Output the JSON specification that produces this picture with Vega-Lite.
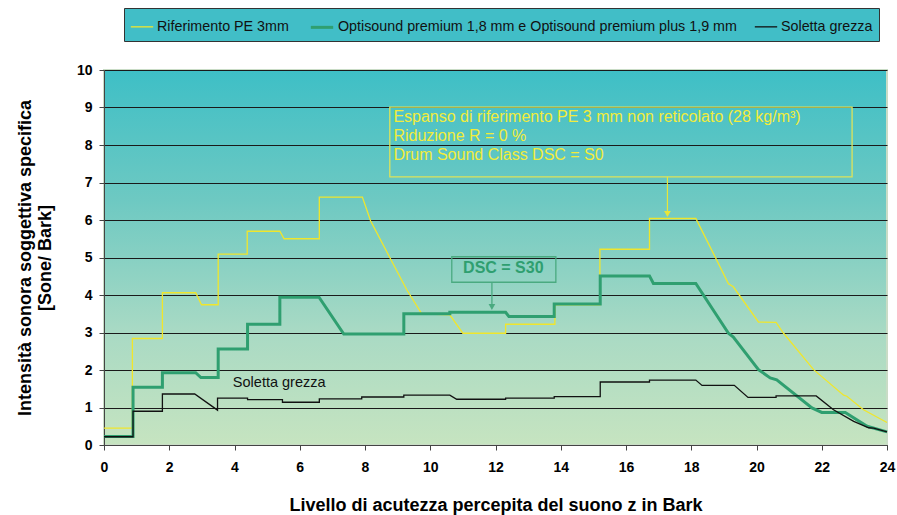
{
  "$schema": "https://vega.github.io/schema/vega-lite/v6.json",
  "width": 783,
  "height": 375,
  "autosize": "none",
  "padding": {"left": 104, "top": 70, "right": 10, "bottom": 70},
  "background": "white",
  "config": {
    "font": "Liberation Sans",
    "view": {
      "fill": {"gradient": "linear", "x1": 0, "y1": 0, "x2": 0, "y2": 1,
        "stops": [
          {"offset": 0, "color": "#3ebfc6"},
          {"offset": 0.35, "color": "#6ec9c2"},
          {"offset": 0.7, "color": "#a9dac4"},
          {"offset": 1, "color": "#c6e4c0"}
        ]},
      "stroke": "#c9dcc6",
      "strokeWidth": 2
    },
    "axis": {
      "labelFont": "Liberation Sans",
      "labelFontWeight": "bold",
      "labelFontSize": 14,
      "labelColor": "#000",
      "labelFlush": false,
      "labelOverlap": false,
      "titleFont": "Liberation Sans",
      "titleFontWeight": "bold",
      "titleFontSize": 18,
      "titleColor": "#000",
      "domainColor": "#444",
      "tickColor": "#444",
      "tickSize": 5
    }
  },
  "datasets": {
    "lines": [
      {"s": "Riferimento PE 3mm", "i": 1, "x": 0, "y": 0.45},
      {"s": "Riferimento PE 3mm", "i": 2, "x": 0.87, "y": 0.45},
      {"s": "Riferimento PE 3mm", "i": 3, "x": 0.87, "y": 2.84},
      {"s": "Riferimento PE 3mm", "i": 4, "x": 1.79, "y": 2.84},
      {"s": "Riferimento PE 3mm", "i": 5, "x": 1.79, "y": 4.06},
      {"s": "Riferimento PE 3mm", "i": 6, "x": 2.81, "y": 4.06},
      {"s": "Riferimento PE 3mm", "i": 7, "x": 2.99, "y": 3.74},
      {"s": "Riferimento PE 3mm", "i": 8, "x": 3.5, "y": 3.74},
      {"s": "Riferimento PE 3mm", "i": 9, "x": 3.5, "y": 5.09},
      {"s": "Riferimento PE 3mm", "i": 10, "x": 4.39, "y": 5.09},
      {"s": "Riferimento PE 3mm", "i": 11, "x": 4.39, "y": 5.7},
      {"s": "Riferimento PE 3mm", "i": 12, "x": 5.39, "y": 5.7},
      {"s": "Riferimento PE 3mm", "i": 13, "x": 5.52, "y": 5.5},
      {"s": "Riferimento PE 3mm", "i": 14, "x": 6.6, "y": 5.5},
      {"s": "Riferimento PE 3mm", "i": 15, "x": 6.6, "y": 6.61},
      {"s": "Riferimento PE 3mm", "i": 16, "x": 7.92, "y": 6.61},
      {"s": "Riferimento PE 3mm", "i": 17, "x": 8.17, "y": 5.98},
      {"s": "Riferimento PE 3mm", "i": 18, "x": 8.76, "y": 5.0},
      {"s": "Riferimento PE 3mm", "i": 19, "x": 9.28, "y": 4.14},
      {"s": "Riferimento PE 3mm", "i": 20, "x": 9.74, "y": 3.5},
      {"s": "Riferimento PE 3mm", "i": 21, "x": 10.6, "y": 3.47},
      {"s": "Riferimento PE 3mm", "i": 22, "x": 11.0, "y": 2.98},
      {"s": "Riferimento PE 3mm", "i": 23, "x": 12.31, "y": 2.98},
      {"s": "Riferimento PE 3mm", "i": 24, "x": 12.31, "y": 3.22},
      {"s": "Riferimento PE 3mm", "i": 25, "x": 13.82, "y": 3.22},
      {"s": "Riferimento PE 3mm", "i": 26, "x": 13.82, "y": 3.74},
      {"s": "Riferimento PE 3mm", "i": 27, "x": 15.2, "y": 3.74},
      {"s": "Riferimento PE 3mm", "i": 28, "x": 15.2, "y": 5.22},
      {"s": "Riferimento PE 3mm", "i": 29, "x": 16.72, "y": 5.22},
      {"s": "Riferimento PE 3mm", "i": 30, "x": 16.72, "y": 6.04},
      {"s": "Riferimento PE 3mm", "i": 31, "x": 18.14, "y": 6.04},
      {"s": "Riferimento PE 3mm", "i": 32, "x": 18.73, "y": 5.02},
      {"s": "Riferimento PE 3mm", "i": 33, "x": 19.14, "y": 4.3},
      {"s": "Riferimento PE 3mm", "i": 34, "x": 19.29, "y": 4.22},
      {"s": "Riferimento PE 3mm", "i": 35, "x": 20.06, "y": 3.28},
      {"s": "Riferimento PE 3mm", "i": 36, "x": 20.6, "y": 3.27},
      {"s": "Riferimento PE 3mm", "i": 37, "x": 20.83, "y": 2.98},
      {"s": "Riferimento PE 3mm", "i": 38, "x": 21.75, "y": 2.01},
      {"s": "Riferimento PE 3mm", "i": 39, "x": 22.67, "y": 1.33},
      {"s": "Riferimento PE 3mm", "i": 40, "x": 22.77, "y": 1.3},
      {"s": "Riferimento PE 3mm", "i": 41, "x": 23.28, "y": 0.94},
      {"s": "Riferimento PE 3mm", "i": 42, "x": 24, "y": 0.6},

      {"s": "Optisound premium 1,8 mm e Optisound premium plus 1,9 mm", "i": 1, "x": 0, "y": 0.23},
      {"s": "Optisound premium 1,8 mm e Optisound premium plus 1,9 mm", "i": 2, "x": 0.89, "y": 0.23},
      {"s": "Optisound premium 1,8 mm e Optisound premium plus 1,9 mm", "i": 3, "x": 0.89, "y": 1.54},
      {"s": "Optisound premium 1,8 mm e Optisound premium plus 1,9 mm", "i": 4, "x": 1.79, "y": 1.54},
      {"s": "Optisound premium 1,8 mm e Optisound premium plus 1,9 mm", "i": 5, "x": 1.79, "y": 1.93},
      {"s": "Optisound premium 1,8 mm e Optisound premium plus 1,9 mm", "i": 6, "x": 2.81, "y": 1.93},
      {"s": "Optisound premium 1,8 mm e Optisound premium plus 1,9 mm", "i": 7, "x": 2.97, "y": 1.8},
      {"s": "Optisound premium 1,8 mm e Optisound premium plus 1,9 mm", "i": 8, "x": 3.5, "y": 1.8},
      {"s": "Optisound premium 1,8 mm e Optisound premium plus 1,9 mm", "i": 9, "x": 3.5, "y": 2.56},
      {"s": "Optisound premium 1,8 mm e Optisound premium plus 1,9 mm", "i": 10, "x": 4.4, "y": 2.56},
      {"s": "Optisound premium 1,8 mm e Optisound premium plus 1,9 mm", "i": 11, "x": 4.4, "y": 3.22},
      {"s": "Optisound premium 1,8 mm e Optisound premium plus 1,9 mm", "i": 12, "x": 5.39, "y": 3.22},
      {"s": "Optisound premium 1,8 mm e Optisound premium plus 1,9 mm", "i": 13, "x": 5.39, "y": 3.94},
      {"s": "Optisound premium 1,8 mm e Optisound premium plus 1,9 mm", "i": 14, "x": 6.59, "y": 3.94},
      {"s": "Optisound premium 1,8 mm e Optisound premium plus 1,9 mm", "i": 15, "x": 7.35, "y": 2.96},
      {"s": "Optisound premium 1,8 mm e Optisound premium plus 1,9 mm", "i": 16, "x": 9.19, "y": 2.96},
      {"s": "Optisound premium 1,8 mm e Optisound premium plus 1,9 mm", "i": 17, "x": 9.19, "y": 3.5},
      {"s": "Optisound premium 1,8 mm e Optisound premium plus 1,9 mm", "i": 18, "x": 10.6, "y": 3.5},
      {"s": "Optisound premium 1,8 mm e Optisound premium plus 1,9 mm", "i": 19, "x": 10.6, "y": 3.54},
      {"s": "Optisound premium 1,8 mm e Optisound premium plus 1,9 mm", "i": 20, "x": 12.31, "y": 3.54},
      {"s": "Optisound premium 1,8 mm e Optisound premium plus 1,9 mm", "i": 21, "x": 12.41, "y": 3.43},
      {"s": "Optisound premium 1,8 mm e Optisound premium plus 1,9 mm", "i": 22, "x": 13.8, "y": 3.43},
      {"s": "Optisound premium 1,8 mm e Optisound premium plus 1,9 mm", "i": 23, "x": 13.8, "y": 3.76},
      {"s": "Optisound premium 1,8 mm e Optisound premium plus 1,9 mm", "i": 24, "x": 15.21, "y": 3.76},
      {"s": "Optisound premium 1,8 mm e Optisound premium plus 1,9 mm", "i": 25, "x": 15.21, "y": 4.51},
      {"s": "Optisound premium 1,8 mm e Optisound premium plus 1,9 mm", "i": 26, "x": 16.72, "y": 4.51},
      {"s": "Optisound premium 1,8 mm e Optisound premium plus 1,9 mm", "i": 27, "x": 16.84, "y": 4.31},
      {"s": "Optisound premium 1,8 mm e Optisound premium plus 1,9 mm", "i": 28, "x": 18.14, "y": 4.31},
      {"s": "Optisound premium 1,8 mm e Optisound premium plus 1,9 mm", "i": 29, "x": 19.14, "y": 2.98},
      {"s": "Optisound premium 1,8 mm e Optisound premium plus 1,9 mm", "i": 30, "x": 19.29, "y": 2.88},
      {"s": "Optisound premium 1,8 mm e Optisound premium plus 1,9 mm", "i": 31, "x": 20.06, "y": 2.01},
      {"s": "Optisound premium 1,8 mm e Optisound premium plus 1,9 mm", "i": 32, "x": 20.42, "y": 1.79},
      {"s": "Optisound premium 1,8 mm e Optisound premium plus 1,9 mm", "i": 33, "x": 20.62, "y": 1.74},
      {"s": "Optisound premium 1,8 mm e Optisound premium plus 1,9 mm", "i": 34, "x": 21.7, "y": 0.99},
      {"s": "Optisound premium 1,8 mm e Optisound premium plus 1,9 mm", "i": 35, "x": 22.0, "y": 0.87},
      {"s": "Optisound premium 1,8 mm e Optisound premium plus 1,9 mm", "i": 36, "x": 22.72, "y": 0.87},
      {"s": "Optisound premium 1,8 mm e Optisound premium plus 1,9 mm", "i": 37, "x": 23.39, "y": 0.5},
      {"s": "Optisound premium 1,8 mm e Optisound premium plus 1,9 mm", "i": 38, "x": 24, "y": 0.35},

      {"s": "Soletta grezza", "i": 1, "x": 0, "y": 0.22},
      {"s": "Soletta grezza", "i": 2, "x": 0.89, "y": 0.22},
      {"s": "Soletta grezza", "i": 3, "x": 0.89, "y": 0.9},
      {"s": "Soletta grezza", "i": 4, "x": 1.79, "y": 0.9},
      {"s": "Soletta grezza", "i": 5, "x": 1.79, "y": 1.36},
      {"s": "Soletta grezza", "i": 6, "x": 2.78, "y": 1.36},
      {"s": "Soletta grezza", "i": 7, "x": 3.48, "y": 0.93},
      {"s": "Soletta grezza", "i": 8, "x": 3.48, "y": 1.25},
      {"s": "Soletta grezza", "i": 9, "x": 4.4, "y": 1.25},
      {"s": "Soletta grezza", "i": 10, "x": 4.4, "y": 1.21},
      {"s": "Soletta grezza", "i": 11, "x": 5.47, "y": 1.21},
      {"s": "Soletta grezza", "i": 12, "x": 5.47, "y": 1.14},
      {"s": "Soletta grezza", "i": 13, "x": 6.6, "y": 1.14},
      {"s": "Soletta grezza", "i": 14, "x": 6.6, "y": 1.23},
      {"s": "Soletta grezza", "i": 15, "x": 7.9, "y": 1.23},
      {"s": "Soletta grezza", "i": 16, "x": 7.9, "y": 1.28},
      {"s": "Soletta grezza", "i": 17, "x": 9.19, "y": 1.28},
      {"s": "Soletta grezza", "i": 18, "x": 9.19, "y": 1.33},
      {"s": "Soletta grezza", "i": 19, "x": 10.6, "y": 1.33},
      {"s": "Soletta grezza", "i": 20, "x": 10.81, "y": 1.22},
      {"s": "Soletta grezza", "i": 21, "x": 12.31, "y": 1.22},
      {"s": "Soletta grezza", "i": 22, "x": 12.31, "y": 1.25},
      {"s": "Soletta grezza", "i": 23, "x": 13.8, "y": 1.25},
      {"s": "Soletta grezza", "i": 24, "x": 13.8, "y": 1.29},
      {"s": "Soletta grezza", "i": 25, "x": 15.21, "y": 1.29},
      {"s": "Soletta grezza", "i": 26, "x": 15.21, "y": 1.68},
      {"s": "Soletta grezza", "i": 27, "x": 16.72, "y": 1.68},
      {"s": "Soletta grezza", "i": 28, "x": 16.72, "y": 1.73},
      {"s": "Soletta grezza", "i": 29, "x": 18.14, "y": 1.73},
      {"s": "Soletta grezza", "i": 30, "x": 18.33, "y": 1.59},
      {"s": "Soletta grezza", "i": 31, "x": 19.32, "y": 1.59},
      {"s": "Soletta grezza", "i": 32, "x": 19.74, "y": 1.27},
      {"s": "Soletta grezza", "i": 33, "x": 20.6, "y": 1.27},
      {"s": "Soletta grezza", "i": 34, "x": 20.6, "y": 1.31},
      {"s": "Soletta grezza", "i": 35, "x": 21.83, "y": 1.31},
      {"s": "Soletta grezza", "i": 36, "x": 22.36, "y": 0.94},
      {"s": "Soletta grezza", "i": 37, "x": 22.98, "y": 0.63},
      {"s": "Soletta grezza", "i": 38, "x": 23.44, "y": 0.46},
      {"s": "Soletta grezza", "i": 39, "x": 23.59, "y": 0.45},
      {"s": "Soletta grezza", "i": 40, "x": 24, "y": 0.35}
    ]
  },
  "encoding": {
    "x": {
      "field": "x", "type": "quantitative",
      "scale": {"domain": [0, 24], "nice": false, "zero": false},
      "axis": {
        "title": "Livello di acutezza percepita del suono z in Bark",
        "values": [0, 2, 4, 6, 8, 10, 12, 14, 16, 18, 20, 22, 24],
        "grid": false,
        "labelPadding": 10,
        "titlePadding": 22
      }
    },
    "y": {
      "field": "y", "type": "quantitative",
      "scale": {"domain": [0, 10], "nice": false},
      "axis": {
        "title": ["Intensità sonora soggettiva specifica", "[Sone/ Bark]"],
        "values": [0, 1, 2, 3, 4, 5, 6, 7, 8, 9, 10],
        "grid": true,
        "gridColor": "#1a1a1a",
        "gridOpacity": 1,
        "gridWidth": 1,
        "labelPadding": 7,
        "titlePadding": 22,
        "titleLineHeight": 20
      }
    }
  },
  "layer": [
    {
      "data": {"name": "lines"},
      "mark": {"type": "line", "interpolate": "linear"},
      "encoding": {
        "order": {"field": "i", "type": "quantitative"},
        "color": {
          "field": "s", "type": "nominal",
          "scale": {
            "domain": ["Riferimento PE 3mm", "Optisound premium 1,8 mm e Optisound premium plus 1,9 mm", "Soletta grezza"],
            "range": ["#f0e62c", "#2f9f70", "#111111"]
          },
          "legend": {
            "title": null,
            "orient": "none",
            "legendX": 20,
            "legendY": -62,
            "direction": "horizontal",
            "fillColor": "#41bec7",
            "strokeColor": "#333333",
            "padding": 6,
            "labelFont": "Liberation Sans",
            "labelFontSize": 14.3,
            "labelColor": "#111",
            "labelLimit": 600,
            "symbolType": "stroke",
            "symbolSize": 500,
            "symbolStrokeWidth": 2,
            "columnPadding": 15,
            "labelOffset": 3
          }
        },
        "strokeWidth": {
          "field": "s", "type": "nominal",
          "scale": {
            "type": "ordinal",
            "domain": ["Riferimento PE 3mm", "Optisound premium 1,8 mm e Optisound premium plus 1,9 mm", "Soletta grezza"],
            "range": [1.3, 3, 1.3]
          },
          "legend": null
        }
      }
    },
    {
      "data": {"values": [{"x": 8.76, "x2": 22.93, "y": 9.01, "y2": 7.15}]},
      "mark": {"type": "rect", "fill": "#ffffff", "fillOpacity": 0, "stroke": "#dde35a", "strokeWidth": 1.3},
      "encoding": {"x2": {"field": "x2"}, "y2": {"field": "y2"}}
    },
    {
      "data": {"values": [
        {"x": 8.87, "y": 8.76, "t": "Espanso di riferimento PE 3 mm non reticolato (28 kg/m³)"},
        {"x": 8.87, "y": 8.25, "t": "Riduzione R = 0 %"},
        {"x": 8.87, "y": 7.74, "t": "Drum Sound Class DSC = S0"}
      ]},
      "mark": {"type": "text", "align": "left", "baseline": "middle", "font": "Liberation Sans", "fontSize": 16, "color": "#f2ec3a"},
      "encoding": {"text": {"field": "t"}}
    },
    {
      "data": {"values": [{"x": 17.27, "y": 7.15, "y2": 6.2}]},
      "mark": {"type": "rule", "color": "#e8e63a", "strokeWidth": 1.2},
      "encoding": {"y2": {"field": "y2"}}
    },
    {
      "data": {"values": [{"x": 17.27, "y": 6.16}]},
      "mark": {"type": "point", "shape": "triangle-down", "filled": true, "size": 45, "color": "#e8e63a", "opacity": 1},
      "encoding": {}
    },
    {
      "data": {"values": [{"x": 10.66, "x2": 13.85, "y": 5.02, "y2": 4.34}]},
      "mark": {"type": "rect", "fill": "#ffffff", "fillOpacity": 0, "stroke": "#4aaa80", "strokeWidth": 1.3},
      "encoding": {"x2": {"field": "x2"}, "y2": {"field": "y2"}}
    },
    {
      "data": {"values": [{"x": 12.24, "y": 4.71, "t": "DSC = S30"}]},
      "mark": {"type": "text", "align": "center", "baseline": "middle", "font": "Liberation Sans", "fontSize": 16, "fontWeight": "bold", "color": "#2f9f70"},
      "encoding": {"text": {"field": "t"}}
    },
    {
      "data": {"values": [{"x": 11.89, "y": 4.34, "y2": 3.72}]},
      "mark": {"type": "rule", "color": "#4aaa80", "strokeWidth": 1.3},
      "encoding": {"y2": {"field": "y2"}}
    },
    {
      "data": {"values": [{"x": 11.89, "y": 3.68}]},
      "mark": {"type": "point", "shape": "triangle-down", "filled": true, "size": 45, "color": "#4aaa80", "opacity": 1},
      "encoding": {}
    },
    {
      "data": {"values": [{"x": 3.95, "y": 1.66, "t": "Soletta grezza"}]},
      "mark": {"type": "text", "align": "left", "baseline": "middle", "font": "Liberation Sans", "fontSize": 14.5, "color": "#111111"},
      "encoding": {"text": {"field": "t"}}
    }
  ]
}
